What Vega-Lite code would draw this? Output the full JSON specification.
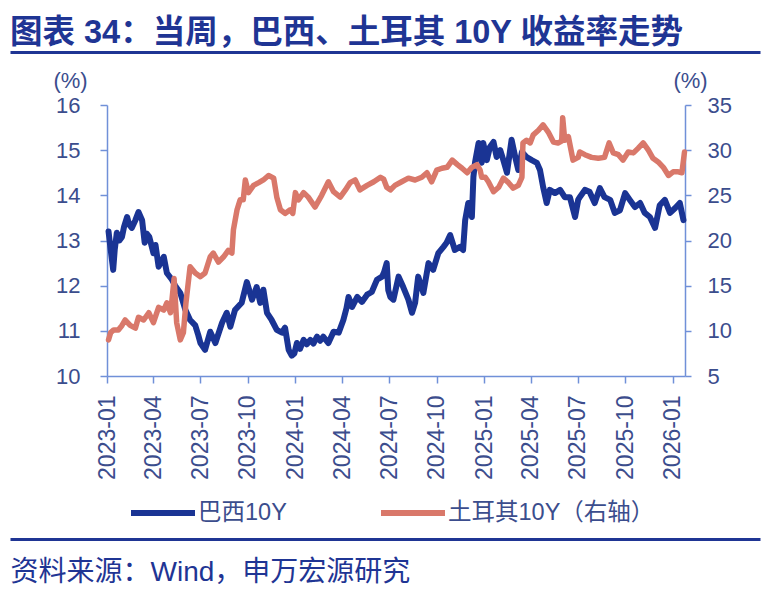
{
"$schema": "https://vega.github.io/schema/vega-lite/v6.json",
"width": 578,
"height": 271,
"autosize": {"type": "none"},
"padding": {"left": 107, "top": 105, "right": 95, "bottom": 215},
"background": "white",
"config": {"view": {"stroke": null}},
"title": {"text": "图表 34：当周，巴西、土耳其 10Y 收益率走势", "anchor": "start", "frame": "group", "dx": -97, "offset": 3, "fontSize": 32.5, "fontWeight": "bold", "font": "Liberation Sans, Noto Sans CJK SC", "color": "#1f3594"},
"datasets": {
"main": [
{"d":"2023-01-04","s":"巴西10Y","v":13.2},{"d":"2023-01-07","s":"巴西10Y","v":12.9},{"d":"2023-01-13","s":"巴西10Y","v":12.35},{"d":"2023-01-16","s":"巴西10Y","v":12.8},{"d":"2023-01-20","s":"巴西10Y","v":13.17},{"d":"2023-01-25","s":"巴西10Y","v":13.0},{"d":"2023-01-30","s":"巴西10Y","v":13.08},{"d":"2023-02-03","s":"巴西10Y","v":13.3},{"d":"2023-02-09","s":"巴西10Y","v":13.52},{"d":"2023-02-13","s":"巴西10Y","v":13.35},{"d":"2023-02-18","s":"巴西10Y","v":13.28},{"d":"2023-02-25","s":"巴西10Y","v":13.45},{"d":"2023-03-03","s":"巴西10Y","v":13.63},{"d":"2023-03-10","s":"巴西10Y","v":13.45},{"d":"2023-03-15","s":"巴西10Y","v":12.95},{"d":"2023-03-19","s":"巴西10Y","v":13.15},{"d":"2023-03-24","s":"巴西10Y","v":13.08},{"d":"2023-04-01","s":"巴西10Y","v":12.72},{"d":"2023-04-05","s":"巴西10Y","v":12.9},{"d":"2023-04-11","s":"巴西10Y","v":12.42},{"d":"2023-04-21","s":"巴西10Y","v":12.64},{"d":"2023-04-27","s":"巴西10Y","v":12.28},{"d":"2023-05-07","s":"巴西10Y","v":12.13},{"d":"2023-05-13","s":"巴西10Y","v":12.0},{"d":"2023-05-23","s":"巴西10Y","v":11.84},{"d":"2023-06-02","s":"巴西10Y","v":11.46},{"d":"2023-06-11","s":"巴西10Y","v":11.24},{"d":"2023-06-21","s":"巴西10Y","v":11.12},{"d":"2023-06-27","s":"巴西10Y","v":10.9},{"d":"2023-07-01","s":"巴西10Y","v":10.73},{"d":"2023-07-10","s":"巴西10Y","v":10.58},{"d":"2023-07-20","s":"巴西10Y","v":10.98},{"d":"2023-07-30","s":"巴西10Y","v":10.73},{"d":"2023-08-12","s":"巴西10Y","v":11.18},{"d":"2023-08-21","s":"巴西10Y","v":11.4},{"d":"2023-08-28","s":"巴西10Y","v":11.09},{"d":"2023-09-06","s":"巴西10Y","v":11.46},{"d":"2023-09-19","s":"巴西10Y","v":11.62},{"d":"2023-09-29","s":"巴西10Y","v":12.08},{"d":"2023-10-09","s":"巴西10Y","v":11.69},{"d":"2023-10-18","s":"巴西10Y","v":11.97},{"d":"2023-10-25","s":"巴西10Y","v":11.62},{"d":"2023-10-31","s":"巴西10Y","v":11.91},{"d":"2023-11-07","s":"巴西10Y","v":11.4},{"d":"2023-11-16","s":"巴西10Y","v":11.24},{"d":"2023-11-26","s":"巴西10Y","v":11.02},{"d":"2023-12-06","s":"巴西10Y","v":10.96},{"d":"2023-12-12","s":"巴西10Y","v":11.07},{"d":"2023-12-19","s":"巴西10Y","v":10.58},{"d":"2023-12-25","s":"巴西10Y","v":10.45},{"d":"2023-12-30","s":"巴西10Y","v":10.5},{"d":"2024-01-04","s":"巴西10Y","v":10.73},{"d":"2024-01-10","s":"巴西10Y","v":10.6},{"d":"2024-01-17","s":"巴西10Y","v":10.8},{"d":"2024-01-23","s":"巴西10Y","v":10.7},{"d":"2024-01-30","s":"巴西10Y","v":10.8},{"d":"2024-02-05","s":"巴西10Y","v":10.72},{"d":"2024-02-12","s":"巴西10Y","v":10.87},{"d":"2024-02-18","s":"巴西10Y","v":10.78},{"d":"2024-02-24","s":"巴西10Y","v":10.87},{"d":"2024-03-05","s":"巴西10Y","v":10.73},{"d":"2024-03-15","s":"巴西10Y","v":10.98},{"d":"2024-03-25","s":"巴西10Y","v":10.96},{"d":"2024-04-03","s":"巴西10Y","v":11.24},{"d":"2024-04-09","s":"巴西10Y","v":11.5},{"d":"2024-04-13","s":"巴西10Y","v":11.75},{"d":"2024-04-20","s":"巴西10Y","v":11.53},{"d":"2024-04-30","s":"巴西10Y","v":11.75},{"d":"2024-05-09","s":"巴西10Y","v":11.64},{"d":"2024-05-19","s":"巴西10Y","v":11.8},{"d":"2024-05-28","s":"巴西10Y","v":11.86},{"d":"2024-06-07","s":"巴西10Y","v":12.13},{"d":"2024-06-17","s":"巴西10Y","v":12.2},{"d":"2024-06-21","s":"巴西10Y","v":12.3},{"d":"2024-06-26","s":"巴西10Y","v":12.5},{"d":"2024-06-29","s":"巴西10Y","v":11.9},{"d":"2024-07-03","s":"巴西10Y","v":11.75},{"d":"2024-07-09","s":"巴西10Y","v":11.69},{"d":"2024-07-19","s":"巴西10Y","v":12.2},{"d":"2024-07-28","s":"巴西10Y","v":11.97},{"d":"2024-08-07","s":"巴西10Y","v":11.69},{"d":"2024-08-14","s":"巴西10Y","v":11.4},{"d":"2024-08-20","s":"巴西10Y","v":11.62},{"d":"2024-08-26","s":"巴西10Y","v":12.2},{"d":"2024-09-05","s":"巴西10Y","v":11.84},{"d":"2024-09-15","s":"巴西10Y","v":12.5},{"d":"2024-09-24","s":"巴西10Y","v":12.35},{"d":"2024-10-04","s":"巴西10Y","v":12.72},{"d":"2024-10-14","s":"巴西10Y","v":12.86},{"d":"2024-10-20","s":"巴西10Y","v":12.95},{"d":"2024-10-27","s":"巴西10Y","v":13.12},{"d":"2024-11-05","s":"巴西10Y","v":12.79},{"d":"2024-11-15","s":"巴西10Y","v":12.86},{"d":"2024-11-21","s":"巴西10Y","v":12.79},{"d":"2024-11-25","s":"巴西10Y","v":13.45},{"d":"2024-12-01","s":"巴西10Y","v":13.83},{"d":"2024-12-08","s":"巴西10Y","v":13.52},{"d":"2024-12-11","s":"巴西10Y","v":14.41},{"d":"2024-12-14","s":"巴西10Y","v":14.72},{"d":"2024-12-21","s":"巴西10Y","v":15.16},{"d":"2024-12-27","s":"巴西10Y","v":14.72},{"d":"2024-12-30","s":"巴西10Y","v":15.16},{"d":"2025-01-06","s":"巴西10Y","v":14.78},{"d":"2025-01-12","s":"巴西10Y","v":15.07},{"d":"2025-01-19","s":"巴西10Y","v":15.18},{"d":"2025-01-25","s":"巴西10Y","v":14.85},{"d":"2025-02-01","s":"巴西10Y","v":15.0},{"d":"2025-02-07","s":"巴西10Y","v":14.78},{"d":"2025-02-14","s":"巴西10Y","v":14.5},{"d":"2025-02-23","s":"巴西10Y","v":15.23},{"d":"2025-03-02","s":"巴西10Y","v":14.85},{"d":"2025-03-08","s":"巴西10Y","v":14.56},{"d":"2025-03-15","s":"巴西10Y","v":14.96},{"d":"2025-03-24","s":"巴西10Y","v":14.85},{"d":"2025-04-03","s":"巴西10Y","v":14.78},{"d":"2025-04-13","s":"巴西10Y","v":14.72},{"d":"2025-04-19","s":"巴西10Y","v":14.56},{"d":"2025-04-25","s":"巴西10Y","v":14.19},{"d":"2025-05-02","s":"巴西10Y","v":13.83},{"d":"2025-05-08","s":"巴西10Y","v":14.12},{"d":"2025-05-18","s":"巴西10Y","v":14.05},{"d":"2025-05-28","s":"巴西10Y","v":14.12},{"d":"2025-06-06","s":"巴西10Y","v":13.96},{"d":"2025-06-16","s":"巴西10Y","v":13.96},{"d":"2025-06-26","s":"巴西10Y","v":13.52},{"d":"2025-07-02","s":"巴西10Y","v":13.9},{"d":"2025-07-05","s":"巴西10Y","v":13.96},{"d":"2025-07-15","s":"巴西10Y","v":14.12},{"d":"2025-07-24","s":"巴西10Y","v":14.08},{"d":"2025-08-03","s":"巴西10Y","v":13.83},{"d":"2025-08-13","s":"巴西10Y","v":14.16},{"d":"2025-08-22","s":"巴西10Y","v":13.96},{"d":"2025-09-02","s":"巴西10Y","v":13.9},{"d":"2025-09-11","s":"巴西10Y","v":13.61},{"d":"2025-09-21","s":"巴西10Y","v":13.67},{"d":"2025-10-01","s":"巴西10Y","v":14.05},{"d":"2025-10-10","s":"巴西10Y","v":13.9},{"d":"2025-10-20","s":"巴西10Y","v":13.74},{"d":"2025-10-30","s":"巴西10Y","v":13.83},{"d":"2025-11-08","s":"巴西10Y","v":13.61},{"d":"2025-11-18","s":"巴西10Y","v":13.52},{"d":"2025-11-28","s":"巴西10Y","v":13.28},{"d":"2025-12-07","s":"巴西10Y","v":13.78},{"d":"2025-12-17","s":"巴西10Y","v":13.9},{"d":"2025-12-27","s":"巴西10Y","v":13.61},{"d":"2026-01-06","s":"巴西10Y","v":13.72},{"d":"2026-01-15","s":"巴西10Y","v":13.83},{"d":"2026-01-22","s":"巴西10Y","v":13.45},
{"d":"2023-01-04","s":"土耳其10Y（右轴）","v":9.0},{"d":"2023-01-08","s":"土耳其10Y（右轴）","v":9.8},{"d":"2023-01-14","s":"土耳其10Y（右轴）","v":10.1},{"d":"2023-01-23","s":"土耳其10Y（右轴）","v":10.1},{"d":"2023-01-30","s":"土耳其10Y（右轴）","v":10.6},{"d":"2023-02-05","s":"土耳其10Y（右轴）","v":11.2},{"d":"2023-02-15","s":"土耳其10Y（右轴）","v":10.6},{"d":"2023-02-25","s":"土耳其10Y（右轴）","v":10.3},{"d":"2023-03-03","s":"土耳其10Y（右轴）","v":11.5},{"d":"2023-03-13","s":"土耳其10Y（右轴）","v":11.2},{"d":"2023-03-23","s":"土耳其10Y（右轴）","v":12.0},{"d":"2023-04-01","s":"土耳其10Y（右轴）","v":10.9},{"d":"2023-04-11","s":"土耳其10Y（右轴）","v":12.6},{"d":"2023-04-21","s":"土耳其10Y（右轴）","v":12.3},{"d":"2023-04-27","s":"土耳其10Y（右轴）","v":13.1},{"d":"2023-05-04","s":"土耳其10Y（右轴）","v":12.0},{"d":"2023-05-07","s":"土耳其10Y（右轴）","v":13.5},{"d":"2023-05-11","s":"土耳其10Y（右轴）","v":15.8},{"d":"2023-05-16","s":"土耳其10Y（右轴）","v":10.9},{"d":"2023-05-23","s":"土耳其10Y（右轴）","v":9.0},{"d":"2023-05-29","s":"土耳其10Y（右轴）","v":9.8},{"d":"2023-06-03","s":"土耳其10Y（右轴）","v":13.1},{"d":"2023-06-11","s":"土耳其10Y（右轴）","v":17.1},{"d":"2023-06-21","s":"土耳其10Y（右轴）","v":16.4},{"d":"2023-07-01","s":"土耳其10Y（右轴）","v":16.0},{"d":"2023-07-10","s":"土耳其10Y（右轴）","v":16.4},{"d":"2023-07-20","s":"土耳其10Y（右轴）","v":18.2},{"d":"2023-07-26","s":"土耳其10Y（右轴）","v":18.6},{"d":"2023-08-05","s":"土耳其10Y（右轴）","v":17.6},{"d":"2023-08-15","s":"土耳其10Y（右轴）","v":18.2},{"d":"2023-08-24","s":"土耳其10Y（右轴）","v":18.9},{"d":"2023-08-31","s":"土耳其10Y（右轴）","v":18.6},{"d":"2023-09-03","s":"土耳其10Y（右轴）","v":21.2},{"d":"2023-09-10","s":"土耳其10Y（右轴）","v":23.4},{"d":"2023-09-16","s":"土耳其10Y（右轴）","v":24.5},{"d":"2023-09-22","s":"土耳其10Y（右轴）","v":24.5},{"d":"2023-09-26","s":"土耳其10Y（右轴）","v":26.7},{"d":"2023-10-02","s":"土耳其10Y（右轴）","v":25.3},{"d":"2023-10-12","s":"土耳其10Y（右轴）","v":26.1},{"d":"2023-10-22","s":"土耳其10Y（右轴）","v":26.4},{"d":"2023-10-31","s":"土耳其10Y（右轴）","v":26.7},{"d":"2023-11-10","s":"土耳其10Y（右轴）","v":27.2},{"d":"2023-11-20","s":"土耳其10Y（右轴）","v":26.9},{"d":"2023-11-26","s":"土耳其10Y（右轴）","v":24.8},{"d":"2023-12-03","s":"土耳其10Y（右轴）","v":23.4},{"d":"2023-12-12","s":"土耳其10Y（右轴）","v":23.0},{"d":"2023-12-22","s":"土耳其10Y（右轴）","v":23.4},{"d":"2023-12-27","s":"土耳其10Y（右轴）","v":23.0},{"d":"2024-01-01","s":"土耳其10Y（右轴）","v":25.3},{"d":"2024-01-07","s":"土耳其10Y（右轴）","v":24.5},{"d":"2024-01-17","s":"土耳其10Y（右轴）","v":25.3},{"d":"2024-01-26","s":"土耳其10Y（右轴）","v":24.8},{"d":"2024-02-08","s":"土耳其10Y（右轴）","v":23.7},{"d":"2024-02-21","s":"土耳其10Y（右轴）","v":25.0},{"d":"2024-03-05","s":"土耳其10Y（右轴）","v":26.5},{"d":"2024-03-15","s":"土耳其10Y（右轴）","v":25.4},{"d":"2024-03-28","s":"土耳其10Y（右轴）","v":24.8},{"d":"2024-04-07","s":"土耳其10Y（右轴）","v":25.6},{"d":"2024-04-16","s":"土耳其10Y（右轴）","v":26.4},{"d":"2024-04-26","s":"土耳其10Y（右轴）","v":26.7},{"d":"2024-05-05","s":"土耳其10Y（右轴）","v":25.6},{"d":"2024-05-19","s":"土耳其10Y（右轴）","v":26.1},{"d":"2024-06-01","s":"土耳其10Y（右轴）","v":26.5},{"d":"2024-06-14","s":"土耳其10Y（右轴）","v":27.0},{"d":"2024-06-20","s":"土耳其10Y（右轴）","v":26.8},{"d":"2024-06-26","s":"土耳其10Y（右轴）","v":25.9},{"d":"2024-07-03","s":"土耳其10Y（右轴）","v":25.6},{"d":"2024-07-12","s":"土耳其10Y（右轴）","v":26.1},{"d":"2024-07-25","s":"土耳其10Y（右轴）","v":26.5},{"d":"2024-08-07","s":"土耳其10Y（右轴）","v":26.9},{"d":"2024-08-20","s":"土耳其10Y（右轴）","v":26.7},{"d":"2024-09-02","s":"土耳其10Y（右轴）","v":27.0},{"d":"2024-09-12","s":"土耳其10Y（右轴）","v":27.5},{"d":"2024-09-21","s":"土耳其10Y（右轴）","v":26.5},{"d":"2024-10-01","s":"土耳其10Y（右轴）","v":27.8},{"d":"2024-10-11","s":"土耳其10Y（右轴）","v":28.0},{"d":"2024-10-21","s":"土耳其10Y（右轴）","v":28.1},{"d":"2024-10-31","s":"土耳其10Y（右轴）","v":28.9},{"d":"2024-11-10","s":"土耳其10Y（右轴）","v":28.4},{"d":"2024-11-19","s":"土耳其10Y（右轴）","v":28.0},{"d":"2024-11-29","s":"土耳其10Y（右轴）","v":27.5},{"d":"2024-12-08","s":"土耳其10Y（右轴）","v":28.1},{"d":"2024-12-18","s":"土耳其10Y（右轴）","v":28.4},{"d":"2024-12-24","s":"土耳其10Y（右轴）","v":27.8},{"d":"2024-12-27","s":"土耳其10Y（右轴）","v":27.0},{"d":"2025-01-03","s":"土耳其10Y（右轴）","v":27.0},{"d":"2025-01-09","s":"土耳其10Y（右轴）","v":26.5},{"d":"2025-01-19","s":"土耳其10Y（右轴）","v":25.4},{"d":"2025-01-29","s":"土耳其10Y（右轴）","v":25.9},{"d":"2025-02-07","s":"土耳其10Y（右轴）","v":26.9},{"d":"2025-02-17","s":"土耳其10Y（右轴）","v":26.4},{"d":"2025-02-26","s":"土耳其10Y（右轴）","v":25.8},{"d":"2025-03-08","s":"土耳其10Y（右轴）","v":26.1},{"d":"2025-03-15","s":"土耳其10Y（右轴）","v":27.0},{"d":"2025-03-17","s":"土耳其10Y（右轴）","v":30.8},{"d":"2025-03-24","s":"土耳其10Y（右轴）","v":31.1},{"d":"2025-03-31","s":"土耳其10Y（右轴）","v":30.8},{"d":"2025-04-06","s":"土耳其10Y（右轴）","v":31.7},{"d":"2025-04-16","s":"土耳其10Y（右轴）","v":32.2},{"d":"2025-04-25","s":"土耳其10Y（右轴）","v":32.8},{"d":"2025-05-05","s":"土耳其10Y（右轴）","v":32.0},{"d":"2025-05-15","s":"土耳其10Y（右轴）","v":30.9},{"d":"2025-05-24","s":"土耳其10Y（右轴）","v":30.8},{"d":"2025-05-31","s":"土耳其10Y（右轴）","v":31.0},{"d":"2025-06-02","s":"土耳其10Y（右轴）","v":33.6},{"d":"2025-06-06","s":"土耳其10Y（右轴）","v":31.1},{"d":"2025-06-13","s":"土耳其10Y（右轴）","v":31.5},{"d":"2025-06-22","s":"土耳其10Y（右轴）","v":28.9},{"d":"2025-07-02","s":"土耳其10Y（右轴）","v":29.2},{"d":"2025-07-05","s":"土耳其10Y（右轴）","v":29.8},{"d":"2025-07-15","s":"土耳其10Y（右轴）","v":29.5},{"d":"2025-07-28","s":"土耳其10Y（右轴）","v":29.2},{"d":"2025-08-10","s":"土耳其10Y（右轴）","v":29.1},{"d":"2025-08-22","s":"土耳其10Y（右轴）","v":29.2},{"d":"2025-08-31","s":"土耳其10Y（右轴）","v":30.8},{"d":"2025-09-08","s":"土耳其10Y（右轴）","v":29.7},{"d":"2025-09-18","s":"土耳其10Y（右轴）","v":29.5},{"d":"2025-09-27","s":"土耳其10Y（右轴）","v":28.9},{"d":"2025-10-07","s":"土耳其10Y（右轴）","v":29.8},{"d":"2025-10-17","s":"土耳其10Y（右轴）","v":29.7},{"d":"2025-10-26","s":"土耳其10Y（右轴）","v":30.2},{"d":"2025-11-05","s":"土耳其10Y（右轴）","v":30.8},{"d":"2025-11-15","s":"土耳其10Y（右轴）","v":30.0},{"d":"2025-11-24","s":"土耳其10Y（右轴）","v":29.1},{"d":"2025-12-04","s":"土耳其10Y（右轴）","v":28.7},{"d":"2025-12-14","s":"土耳其10Y（右轴）","v":28.1},{"d":"2025-12-24","s":"土耳其10Y（右轴）","v":27.2},{"d":"2026-01-02","s":"土耳其10Y（右轴）","v":27.6},{"d":"2026-01-12","s":"土耳其10Y（右轴）","v":27.6},{"d":"2026-01-19","s":"土耳其10Y（右轴）","v":27.5},{"d":"2026-01-24","s":"土耳其10Y（右轴）","v":29.8}
],
"deco": [{"p": 0}, {"p": 1}]
},
"layer": [
{
"data": {"name": "main"},
"transform": [{"filter": {"field": "s", "equal": "巴西10Y"}}],
"mark": {"type": "line", "strokeWidth": 6, "strokeJoin": "round", "strokeCap": "round"},
"encoding": {
"x": {"field": "d", "type": "temporal",
"scale": {"type": "utc", "domain": [{"year": 2023, "month": 1, "date": 1, "utc": true}, {"year": 2026, "month": 1, "date": 25, "utc": true}]},
"axis": {"title": null, "format": "%Y-%m", "labelAngle": -90, "labelFontSize": 23, "labelFont": "Liberation Sans", "labelColor": "#3b4d8d", "labelPadding": 12, "tickSize": 7, "tickColor": "#7090d8", "domainColor": "#7090d8", "domainWidth": 1.5, "tickWidth": 1.5, "grid": false, "labelOverlap": false, "labelFlush": false,
"values": [{"year":2023,"month":1,"date":1,"utc":true},{"year":2023,"month":4,"date":1,"utc":true},{"year":2023,"month":7,"date":1,"utc":true},{"year":2023,"month":10,"date":1,"utc":true},{"year":2024,"month":1,"date":1,"utc":true},{"year":2024,"month":4,"date":1,"utc":true},{"year":2024,"month":7,"date":1,"utc":true},{"year":2024,"month":10,"date":1,"utc":true},{"year":2025,"month":1,"date":1,"utc":true},{"year":2025,"month":4,"date":1,"utc":true},{"year":2025,"month":7,"date":1,"utc":true},{"year":2025,"month":10,"date":1,"utc":true},{"year":2026,"month":1,"date":1,"utc":true}]}},
"y": {"field": "v", "type": "quantitative",
"scale": {"domain": [10, 16], "nice": false, "zero": false},
"axis": {"orient": "left", "values": [10, 11, 12, 13, 14, 15, 16], "title": "(%)", "titleAngle": 0, "titleX": -37, "titleY": -25, "titleAlign": "center", "titleBaseline": "middle", "titleFontSize": 22, "titleFontWeight": "normal", "titleFont": "Liberation Sans", "titleColor": "#3b4d8d", "labelFontSize": 22, "labelFont": "Liberation Sans", "labelColor": "#3b4d8d", "labelPadding": 20, "tickSize": 7, "tickColor": "#7090d8", "domainColor": "#7090d8", "domainWidth": 1.5, "tickWidth": 1.5, "grid": false}},
"color": {"field": "s", "type": "nominal",
"scale": {"domain": ["巴西10Y", "土耳其10Y（右轴）"], "range": ["#1a3494", "#d9786a"]},
"legend": {"title": null, "orient": "none", "legendX": 21, "legendY": 373, "direction": "horizontal", "symbolType": "stroke", "symbolSize": 4096, "symbolStrokeWidth": 6, "labelFontSize": 23.5, "labelFont": "Liberation Sans, Noto Sans CJK SC", "labelColor": "#3b4d8d", "labelOffset": 0, "columnPadding": 82, "padding": 0, "labelLimit": 400}}
}
},
{
"data": {"name": "main"},
"transform": [{"filter": {"field": "s", "equal": "土耳其10Y（右轴）"}}],
"mark": {"type": "line", "strokeWidth": 5.5, "strokeJoin": "round", "strokeCap": "round"},
"encoding": {
"x": {"field": "d", "type": "temporal",
"scale": {"type": "utc", "domain": [{"year": 2023, "month": 1, "date": 1, "utc": true}, {"year": 2026, "month": 1, "date": 25, "utc": true}]},
"axis": null},
"y": {"field": "v", "type": "quantitative",
"scale": {"domain": [5, 35], "nice": false, "zero": false},
"axis": {"orient": "right", "values": [5, 10, 15, 20, 25, 30, 35], "title": "(%)", "titleAngle": 0, "titleX": 5, "titleY": -25, "titleAlign": "center", "titleBaseline": "middle", "titleFontSize": 22, "titleFontWeight": "normal", "titleFont": "Liberation Sans", "titleColor": "#3b4d8d", "labelFontSize": 22, "labelFont": "Liberation Sans", "labelColor": "#3b4d8d", "labelPadding": 16, "tickSize": 6, "tickColor": "#7090d8", "domainColor": "#7090d8", "domainWidth": 1.5, "tickWidth": 1.5, "grid": false}},
"color": {"field": "s", "type": "nominal",
"scale": {"domain": ["巴西10Y", "土耳其10Y（右轴）"], "range": ["#1a3494", "#d9786a"]}}
}
},
{
"data": {"name": "deco"},
"mark": {"type": "rule", "opacity": 0},
"encoding": {
"x": {"field": "p", "type": "quantitative", "scale": {"domain": [0, 1], "range": [-97, 653]},
"axis": {"orient": "top", "offset": 53, "domainColor": "#1f3594", "domainWidth": 3, "ticks": false, "labels": false, "grid": false, "title": null}}
}
},
{
"data": {"name": "deco"},
"mark": {"type": "rule", "opacity": 0},
"encoding": {
"x": {"field": "p", "type": "quantitative", "scale": {"domain": [0, 1], "range": [-97, 653]},
"axis": {"orient": "bottom", "offset": 163, "domainColor": "#1f3594", "domainWidth": 3, "ticks": false, "labels": false, "grid": false, "title": "资料来源：Wind，申万宏源研究", "titleX": -97, "titleY": 33, "titleAlign": "left", "titleBaseline": "middle", "titleFontSize": 28, "titleFontWeight": "normal", "titleFont": "Liberation Sans, Noto Sans CJK SC", "titleColor": "#1f3594"}}
}
}
],
"resolve": {"scale": {"x": "independent", "y": "independent"}, "axis": {"x": "independent", "y": "independent"}}
}
